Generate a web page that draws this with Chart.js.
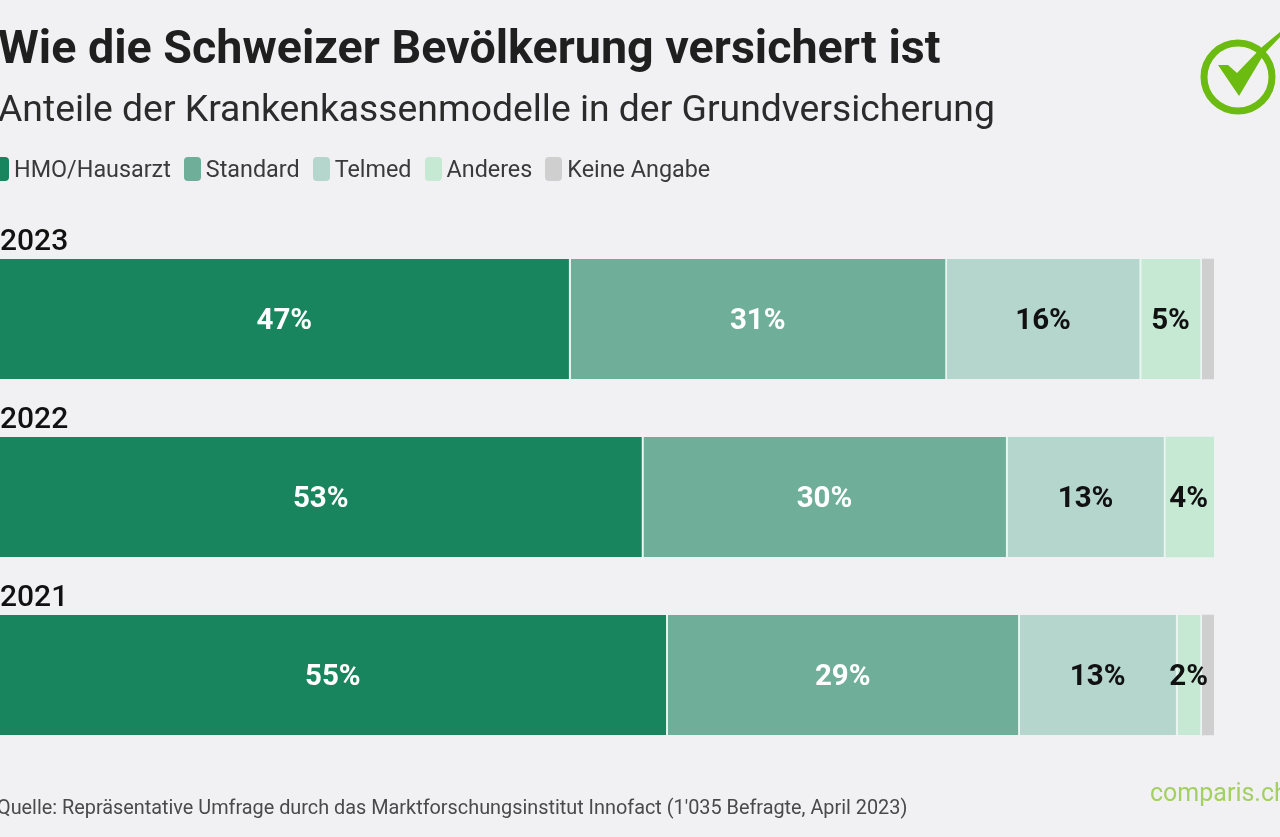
<!DOCTYPE html>
<html lang="de">
<head>
<meta charset="utf-8">
<title>Wie die Schweizer Bevölkerung versichert ist</title>
<script src="https://cdn.jsdelivr.net/npm/chart.js@4"></script>
<style>
    html, body { margin: 0; padding: 0; background: #f1f1f3; overflow: hidden; }
    body { width: 1280px; height: 837px; position: relative; font-family: Roboto, sans-serif; }
    #wrap { position: absolute; left: 0; top: 0; width: 1280px; height: 837px; }
    .txt { position: absolute; white-space: nowrap; }
    #title { left: -2px; top: 20px; font-size: 46.65px; font-weight: 700; color: #1f1f1f; }
    #subtitle { left: -2px; top: 86px; font-size: 37.3px; color: #2b2b2b; }
    #legend { position: absolute; left: -8px; top: 155px; display: flex; align-items: center; font-size: 23.35px; color: #3a3a3a; }
    #legend .item { display: flex; align-items: center; margin-right: 13px; }
    #legend .box { width: 17px; height: 24px; border-radius: 4px; margin-right: 5px; }
    #source { left: -3px; top: 796px; font-size: 19.85px; color: #4a4a4a; }
    #brand { left: 1150px; top: 778px; font-size: 25px; color: #a4cf62; }
    #logo { position: absolute; left: 1190px; top: 25px; }
</style>
</head>
<body>
<div id="wrap"><canvas id="surveyChart"></canvas></div>
<div class="txt" id="title">Wie die Schweizer Bevölkerung versichert ist</div>
<div class="txt" id="subtitle">Anteile der Krankenkassenmodelle in der Grundversicherung</div>
<div id="legend"></div>
<div class="txt" id="source">Quelle: Repräsentative Umfrage durch das Marktforschungsinstitut Innofact (1'035 Befragte, April 2023)</div>
<div class="txt" id="brand">comparis.ch</div>
<svg id="logo" width="90" height="95" viewBox="1190 25 90 95">
    <circle cx="1238" cy="77" r="34" fill="none" stroke="#6cbb10" stroke-width="7"/>
    <polygon points="1218,65 1228,65 1237,73 1262,47 1280,32 1280,37 1264,54 1239,96" fill="#6cbb10"/>
</svg>
<script>
const years = ['2023', '2022', '2021'];
const seriesNames = ['HMO/Hausarzt', 'Standard', 'Telmed', 'Anderes', 'Keine Angabe'];
const hmo = [47, 53, 55];
const standard = [31, 30, 29];
const telmed = [16, 13, 13];
const anderes = [5, 4, 2];
const keineAngabe = [1, 0, 1];
const seriesColors = ['#18855f', '#6fae99', '#b5d6cc', '#c5e9d3', '#cfcfcf'];
const labelColors = ['#ffffff', '#ffffff', '#111111', '#111111', null];

// Legend
const legendEl = document.getElementById('legend');
seriesNames.forEach((name, i) => {
    const item = document.createElement('div');
    item.className = 'item';
    const box = document.createElement('div');
    box.className = 'box';
    box.style.background = seriesColors[i];
    item.appendChild(box);
    item.appendChild(document.createTextNode(name));
    legendEl.appendChild(item);
});

// Year above each bar, percent in the middle of each segment
const barText = {
    id: 'barText',
    afterDatasetsDraw(chart) {
        const ctx = chart.ctx;
        ctx.save();
        ctx.textBaseline = 'middle';
        ctx.fillStyle = '#111111';
        ctx.font = "500 30px Roboto, sans-serif";
        ctx.textAlign = 'left';
        years.forEach((y, i) => {
            const bar = chart.getDatasetMeta(0).data[i];
            ctx.fillText(y, 0, bar.y - 77);
        });
        ctx.font = "700 29.5px Roboto, sans-serif";
        ctx.textAlign = 'center';
        chart.data.datasets.forEach((ds, d) => {
            if (!labelColors[d]) return;
            ctx.fillStyle = labelColors[d];
            chart.getDatasetMeta(d).data.forEach((bar, i) => {
                ctx.fillText(ds.data[i] + '%', (bar.base + bar.x) / 2 - 1, bar.y + 3);
            });
        });
        ctx.restore();
    }
};

const allSeries = [hmo, standard, telmed, anderes, keineAngabe];

new Chart(document.getElementById('surveyChart'), {
    type: 'bar',
    data: {
        labels: years,
        datasets: seriesNames.map((name, i) => ({
            label: name,
            data: allSeries[i],
            backgroundColor: seriesColors[i],
            borderColor: '#e9f5f0',
            borderSkipped: false,
            borderWidth: (c) => ({ right: (i < 4 && keineAngabe[c.dataIndex] + (i < 3 ? 1 : 0) > 0) ? 2 : 0, left: 0, top: 0, bottom: 0 }),
            barThickness: 120
        }))
    },
    options: {
        indexAxis: 'y',
        responsive: true,
        maintainAspectRatio: false,
        animation: false,
        layout: { padding: { left: 0, right: 66, top: 230, bottom: 73 } },
        scales: {
            x: { stacked: true, min: 0, max: 100, display: false },
            y: { stacked: true, display: false }
        },
        plugins: {
            legend: { display: false },
            tooltip: { enabled: false }
        }
    },
    plugins: [barText]
});
</script>
</body>
</html>
